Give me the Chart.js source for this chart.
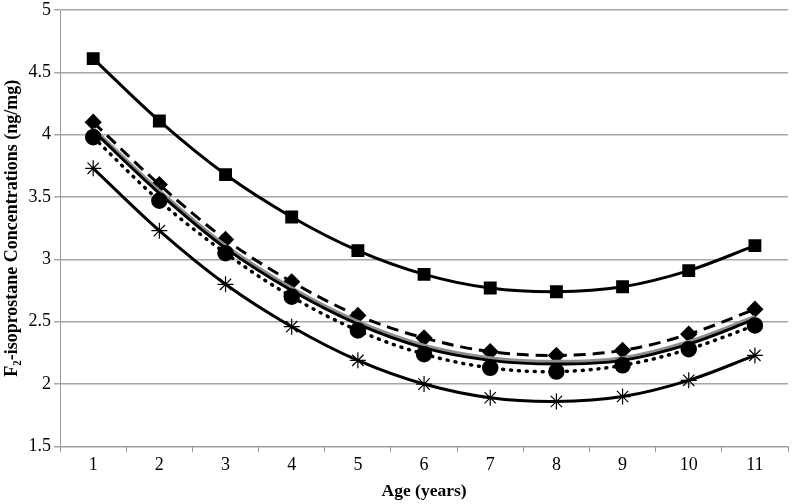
<!DOCTYPE html>
<html>
<head>
<meta charset="utf-8">
<script src="https://cdn.jsdelivr.net/npm/chart.js@4"></script>
<style>
  body { margin: 0; background: #fff; }
  #wrap { width: 800px; height: 504px; }
</style>
</head>
<body>
<div id="wrap"><canvas id="ageChart"></canvas></div>
<script>
const ages = ['1', '2', '3', '4', '5', '6', '7', '8', '9', '10', '11'];
const squareSeries = [4.61, 4.11, 3.68, 3.34, 3.07, 2.88, 2.77, 2.74, 2.78, 2.91, 3.11];
const diamondSeries = [4.10, 3.60, 3.16, 2.82, 2.55, 2.37, 2.26, 2.23, 2.27, 2.40, 2.60];
const graySeries = [4.05, 3.55, 3.11, 2.77, 2.50, 2.31, 2.21, 2.18, 2.21, 2.34, 2.54];
const blackSeries = [4.03, 3.53, 3.09, 2.75, 2.48, 2.29, 2.19, 2.16, 2.19, 2.32, 2.52];
const circleSeries = [3.98, 3.47, 3.05, 2.70, 2.43, 2.24, 2.13, 2.10, 2.15, 2.28, 2.47];
const starSeries = [3.73, 3.23, 2.80, 2.46, 2.19, 2.00, 1.89, 1.86, 1.90, 2.03, 2.23];
const yTicks = [1.5, 2, 2.5, 3, 3.5, 4, 4.5, 5];

const serif = '"Liberation Serif", "Times New Roman", serif';

const ctx = document.getElementById('ageChart').getContext('2d');
const ageChart = new Chart(ctx, {
    type: 'line',
    data: {
        labels: ages,
        datasets: [{
            data: squareSeries,
            borderColor: '#000',
            backgroundColor: '#000',
            borderWidth: 3,
            pointStyle: 'rect',
            pointRadius: 7,
            tension: 0.35
        },
        {
            data: circleSeries,
            borderColor: '#000',
            backgroundColor: '#000',
            borderWidth: 3.5,
            borderDash: [1, 7],
            borderCapStyle: 'round',
            pointStyle: 'circle',
            pointRadius: 6.5,
            tension: 0.35
        },
        {
            data: blackSeries,
            borderColor: '#000',
            borderWidth: 3,
            pointRadius: 0,
            tension: 0.35
        },
        {
            data: graySeries,
            borderColor: '#8e8e8e',
            borderWidth: 3.5,
            pointRadius: 0,
            tension: 0.35
        },
        {
            data: diamondSeries,
            borderColor: '#000',
            backgroundColor: '#000',
            borderWidth: 3,
            borderDash: [12, 7],
            pointStyle: 'rectRot',
            pointRadius: 6.5,
            tension: 0.35
        },
        {
            data: starSeries,
            borderColor: '#000',
            backgroundColor: '#000',
            borderWidth: 3,
            pointStyle: 'star',
            pointRadius: 8,
            pointBorderWidth: 1.2,
            tension: 0.35
        }]
    },
    options: {
        responsive: true,
        maintainAspectRatio: false,
        animation: false,
        layout: { padding: { top: 0, right: 12, bottom: 2, left: 2 } },
        plugins: {
            legend: { display: false },
            tooltip: { enabled: false }
        },
        scales: {
            x: {
                offset: true,
                grid: {
                    offset: true,
                    drawOnChartArea: false,
                    drawTicks: true,
                    tickLength: 6,
                    color: '#9a9a9a'
                },
                border: { color: '#9a9a9a', width: 1 },
                ticks: {
                    color: '#000',
                    font: { family: serif, size: 18 },
                    padding: 2
                },
                title: {
                    display: true,
                    text: 'Age (years)',
                    color: '#000',
                    font: { family: serif, size: 17.5, weight: 'bold' },
                    padding: { top: 3, bottom: 0 }
                }
            },
            y: {
                min: 1.5,
                max: 5,
                afterBuildTicks: axis => {
                    axis.ticks = yTicks.map(v => ({ value: v }));
                },
                afterFit: axis => {
                    axis.paddingTop = 0;
                },
                grid: {
                    color: '#a6a6a6',
                    lineWidth: 1.5,
                    tickLength: 6
                },
                border: { color: '#9a9a9a', width: 1 },
                ticks: {
                    color: '#000',
                    font: { family: serif, size: 18 },
                    padding: 3,
                    callback: v => String(v)
                },
                title: {
                    display: true,
                    text: 'F\u2082-isoprostane Concentrations (ng/mg)',
                    color: '#000',
                    font: { family: serif, size: 18, weight: 'bold' },
                    padding: { top: 0, bottom: 2 }
                }
            }
        }
    }
});
</script>
</body>
</html>
